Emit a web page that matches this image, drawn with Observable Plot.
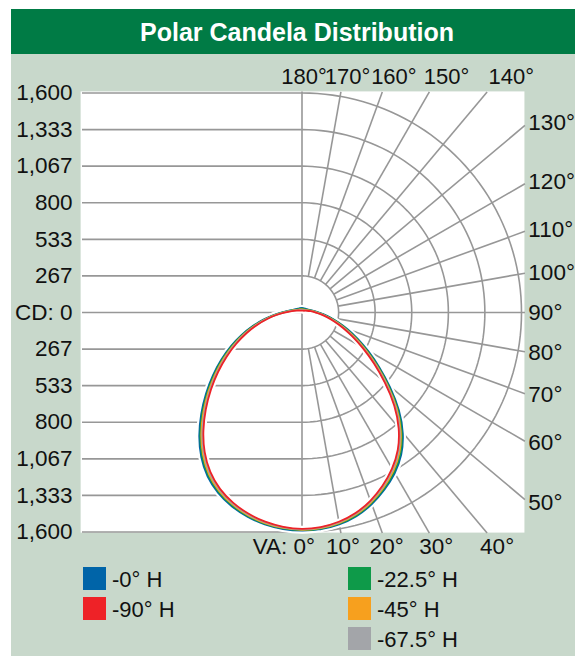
<!DOCTYPE html>
<html><head><meta charset="utf-8">
<script src="https://cdn.jsdelivr.net/npm/d3@7"></script>
<script src="https://cdn.jsdelivr.net/npm/@observablehq/plot@0.6"></script>
<style>
html,body{margin:0;padding:0;background:#fff;width:575px;height:656px;overflow:hidden;font-family:"Liberation Sans",Arial,Helvetica,sans-serif;}
#panel{position:absolute;left:11px;top:9px;width:564px;height:647px;background:#c8d8cb;}
#header{position:absolute;left:11px;top:9px;width:564px;height:45px;background:#007b45;color:#fff;font-weight:bold;font-size:25px;line-height:46px;text-align:center;box-sizing:border-box;padding-left:8px;}
#chart{position:absolute;left:0;top:54px;}
.sw{position:absolute;width:23px;height:23px;}
.lab{position:absolute;font-size:22px;line-height:23px;color:#111;white-space:nowrap;}
</style></head><body>
<div id="panel"></div>
<div id="header">Polar Candela Distribution</div>
<div id="chart"></div>
<div id="legend"></div>
<script>
// ---- data ----
const cdMax = 1600;
const cdTicks = [1600, 1333, 1067, 800, 533, 267, 0, -267, -533, -800, -1067, -1333, -1600];
const cdTickLabels = ["1,600", "1,333", "1,067", "800", "533", "267", "CD: 0", "267", "533", "800", "1,067", "1,333", "1,600"];
const rings = [267, 533, 800, 1067, 1333, 1600];
const gridAngles = [10, 20, 30, 40, 50, 60, 70, 80, 90, 100, 110, 120, 130, 140, 150, 160, 170];
const rightLabelAngles = [50, 60, 70, 80, 90, 100, 110, 120, 130];
const topLabelAngles = [140, 150, 160, 170, 180];
const bottomLabelAngles = [10, 20, 30, 40];

const seriesNames = ["-0° H", "-22.5° H", "-45° H", "-67.5° H", "-90° H"];
const seriesColors = ["#0064a8", "#0e9a49", "#f7a01e", "#a3a5a9", "#ee2227"];

// vertical angles (0 = nadir, 180 = zenith)
const va = [0, 5, 10, 15, 20, 25, 30, 35, 40, 45, 50, 55, 60, 65, 70, 75, 80, 85, 90, 100, 110, 120, 135, 150, 180];
// candela, right half of chart
const h0Right  = [1594, 1590, 1573, 1542, 1492, 1428, 1358, 1272, 1154, 1009, 839, 689, 559, 447, 355, 274, 211, 162, 125, 82, 58, 46, 38, 35, 34];
const h22Right = [1591, 1586, 1568, 1536, 1485, 1420, 1348, 1261, 1142, 997, 827, 677, 547, 436, 345, 266, 204, 156, 119, 77, 53, 41, 33, 30, 29];
const h45Right = [1588, 1582, 1563, 1530, 1478, 1412, 1338, 1250, 1130, 985, 815, 665, 535, 425, 335, 258, 197, 150, 113, 72, 48, 36, 28, 25, 24];
const h67Right = [1585, 1578, 1558, 1524, 1471, 1404, 1328, 1239, 1118, 973, 803, 653, 523, 414, 325, 250, 190, 144, 107, 67, 43, 31, 23, 20, 19];
const h90Right = [1582, 1574, 1553, 1518, 1464, 1396, 1318, 1228, 1106, 961, 791, 641, 511, 403, 315, 242, 183, 138, 101, 62, 38, 26, 18, 15, 14];
// candela, left half of chart
const h0Left  = [1594, 1588, 1572, 1545, 1506, 1455, 1386, 1290, 1173, 1044, 917, 796, 682, 572, 469, 371, 284, 210, 153, 90, 62, 50, 40, 36, 34];
const h22Left = [1591, 1584, 1567, 1539, 1499, 1447, 1376, 1279, 1161, 1032, 905, 784, 670, 561, 459, 363, 277, 204, 147, 85, 57, 45, 35, 31, 29];
const h45Left = [1588, 1580, 1562, 1533, 1492, 1439, 1366, 1268, 1149, 1020, 893, 772, 658, 550, 449, 355, 270, 198, 141, 80, 52, 40, 30, 26, 24];
const h67Left = [1585, 1576, 1557, 1527, 1485, 1431, 1356, 1257, 1137, 1008, 881, 760, 646, 539, 439, 347, 263, 192, 135, 75, 47, 35, 25, 21, 19];
const h90Left = [1582, 1572, 1552, 1521, 1478, 1423, 1346, 1246, 1125, 996, 869, 748, 634, 528, 429, 339, 256, 186, 129, 70, 42, 30, 20, 16, 14];

const rightVals = [h0Right, h22Right, h45Right, h67Right, h90Right];
const leftVals  = [h0Left, h22Left, h45Left, h67Left, h90Left];

// ---- build tables ----
const rad = d => d * Math.PI / 180;
const curvePts = [];
seriesNames.forEach((name, s) => {
  va.forEach((a, i) => {
    const r = rightVals[s][i];
    curvePts.push({series: name, x: r * Math.sin(rad(a)), y: -r * Math.cos(rad(a))});
  });
  for (let i = va.length - 2; i >= 1; i--) {
    const a = va[i], r = leftVals[s][i];
    curvePts.push({series: name, x: -r * Math.sin(rad(a)), y: -r * Math.cos(rad(a))});
  }
});

const arcPts = [];
rings.forEach(r => {
  for (let a = 0; a <= 180; a += 2) arcPts.push({ring: r, x: r * Math.sin(rad(a)), y: -r * Math.cos(rad(a))});
});

const boxX = 1625, boxY = 1608;
const spokes = gridAngles.map(a => {
  const s = Math.sin(rad(a)), c = -Math.cos(rad(a));
  const t = Math.min(boxX / Math.abs(s), Math.abs(c) > 1e-9 ? boxY / Math.abs(c) : Infinity);
  return {x1: rings[0] * s, y1: rings[0] * c, x2: t * s, y2: t * c};
});

const gridColor = "#979797";
const font = "Liberation Sans, Arial, Helvetica, sans-serif";
const txt = {fontSize: 22.5, fill: "#111", fontFamily: font};

const chart = Plot.plot({
  width: 575,
  height: 510,
  margin: 0,
  x: {domain: [-cdMax, cdMax], range: [82, 521], axis: null},
  y: {domain: [-cdMax, cdMax], range: [477.5, 38.5], axis: null},
  color: {domain: seriesNames, range: seriesColors},
  style: {background: "transparent", fontFamily: font, overflow: "visible"},
  marks: [
    Plot.rect([0], {x1: -1610, x2: boxX, y1: -boxY, y2: boxY, fill: "white"}),
    Plot.ruleY(cdTicks, {x1: -cdMax, x2: 0, stroke: gridColor, strokeWidth: 1.6}),
    Plot.ruleX([0], {y1: -boxY, y2: boxY, stroke: gridColor, strokeWidth: 1.6}),
    Plot.line(arcPts, {x: "x", y: "y", z: "ring", stroke: gridColor, strokeWidth: 1.6}),
    Plot.link(spokes, {x1: "x1", y1: "y1", x2: "x2", y2: "y2", stroke: gridColor, strokeWidth: 1.6}),
    Plot.line(curvePts, {x: "x", y: "y", z: "series", stroke: "white", strokeWidth: 6, curve: "basis-closed"}),
    Plot.line(curvePts, {x: "x", y: "y", z: "series", stroke: "series", strokeWidth: 1.8, curve: "basis-closed"}),
    Plot.text(cdTicks, {x: -cdMax, y: d => d, text: (d, i) => cdTickLabels[i], textAnchor: "end", dx: -10, ...txt}),
    Plot.text(rightLabelAngles, {x: 1650, y: a => -1650 * Math.cos(rad(a)) / Math.sin(rad(a)), text: a => a + "°", textAnchor: "start", ...txt}),
    Plot.text(topLabelAngles, {x: a => 1800 * Math.sin(rad(a)) / -Math.cos(rad(a)), y: 1716, text: a => a + "°", textAnchor: "middle", dx: 2, ...txt, fontSize: 22}),
    Plot.text(bottomLabelAngles, {x: a => 1695 * Math.tan(rad(a)), y: -1709, text: a => a + "°", textAnchor: "middle", ...txt}),
    Plot.text(["VA: 0°"], {x: 0, y: -1709, text: d => d, textAnchor: "end", dx: 13, ...txt})
  ]
});
document.getElementById("chart").appendChild(chart);

// ---- legend ----
const legendCols = [[0, 4], [1, 2, 3]];
const legend = document.getElementById("legend");
const colX = [83, 348], rowY0 = 567, rowStep = 30;
legendCols.forEach((col, c) => {
  col.forEach((s, r) => {
    const sw = document.createElement("div");
    sw.className = "sw";
    sw.style.left = colX[c] + "px";
    sw.style.top = (rowY0 + r * rowStep) + "px";
    sw.style.background = seriesColors[s];
    legend.appendChild(sw);
    const lb = document.createElement("div");
    lb.className = "lab";
    lb.style.left = (colX[c] + 29) + "px";
    lb.style.top = (rowY0 + r * rowStep + 1) + "px";
    lb.textContent = seriesNames[s];
    legend.appendChild(lb);
  });
});
</script></body></html>
